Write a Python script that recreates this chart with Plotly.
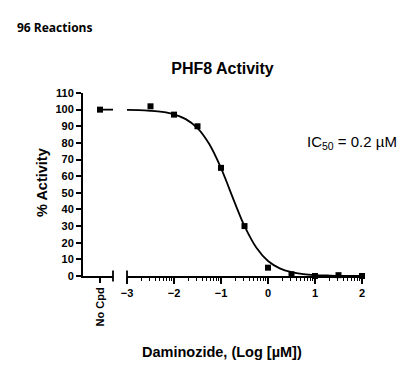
import plotly.graph_objects as go

# ---- data ----
log_conc = [-2.5, -2.0, -1.5, -1.0, -0.5, 0.0, 0.5, 1.0, 1.5, 2.0]
activity = [102, 97, 90, 65, 30, 5, 1, 0, 0.5, 0]

no_cpd_label = ["No Cpd"]
no_cpd_value = [100]

# fitted curve
curve_x = [-3.0, -2.75, -2.5, -2.25, -2.0, -1.75, -1.5, -1.25, -1.0, -0.875,
           -0.75, -0.625, -0.5, -0.25, 0.0, 0.25, 0.5, 0.75, 1.0, 1.25, 1.5, 1.75, 2.0]
curve_y = [99.8, 99.7, 99.3, 98.6, 97.2, 94.3, 88.9, 79.3, 64.9, 56.2,
           47.1, 38.2, 30.0, 17.1, 9.0, 4.6, 2.3, 1.1, 0.5, 0.3, 0.1, 0.06, 0.03]
curve_top = 100

y_ticks = list(range(0, 111, 10))
x_ticks = [-3, -2, -1, 0, 1, 2]
x_minor = [d + m for d in [-3, -2, -1, 0, 1] for m in
           [0.301, 0.477, 0.602, 0.699, 0.778, 0.845, 0.903, 0.954]]

seg1_range = [-1.7, 1.3]

FONT = "Liberation Sans, Arial, sans-serif"

fig = go.Figure()

# segment 1: No Cpd
fig.add_trace(go.Scatter(x=[0, seg1_range[1]], y=[curve_top, curve_top], mode="lines",
                         line=dict(color="black", width=1.8), xaxis="x", yaxis="y",
                         hoverinfo="skip", cliponaxis=False))
fig.add_trace(go.Scatter(x=[0], y=no_cpd_value, mode="markers",
                         marker=dict(symbol="square", size=6, color="black"),
                         xaxis="x", yaxis="y", cliponaxis=False))

# segment 2: dose response
fig.add_trace(go.Scatter(x=curve_x, y=curve_y, mode="lines", line_shape="spline",
                         line=dict(color="black", width=1.8), xaxis="x2", yaxis="y",
                         hoverinfo="skip", cliponaxis=False))
fig.add_trace(go.Scatter(x=log_conc, y=activity, mode="markers",
                         marker=dict(symbol="square", size=6, color="black"),
                         xaxis="x2", yaxis="y", cliponaxis=False))

tickfont = dict(family=FONT, size=11, color="black", weight="bold")

fig.update_layout(
    width=413, height=372,
    margin=dict(l=83, r=51, t=93, b=96, autoexpand=False),
    paper_bgcolor="white", plot_bgcolor="white",
    showlegend=False,
    title=dict(text="PHF8 Activity", x=0.5, xref="paper", y=1 - 68 / 372,
               yanchor="middle", xanchor="center",
               font=dict(family=FONT, size=16, color="black", weight="bold")),
    xaxis=dict(domain=[0, 30 / 279], range=seg1_range, tickmode="array",
               tickvals=[0], ticktext=no_cpd_label, tickangle=-90,
               ticks="outside", ticklen=5, tickwidth=1.5, tickcolor="black",
               showline=True, linewidth=2, linecolor="black",
               showgrid=False, zeroline=False, tickfont=tickfont, anchor="y"),
    xaxis2=dict(domain=[44 / 279, 1], range=[-3, 2], tickmode="array",
                tickvals=x_ticks, ticks="outside", ticklen=6, tickwidth=1.5,
                tickcolor="black", showline=True, linewidth=2, linecolor="black",
                showgrid=False, zeroline=False, tickfont=tickfont, anchor="y",
                minor=dict(tickmode="array", tickvals=x_minor, ticks="outside",
                           ticklen=3, tickwidth=1.2, tickcolor="black")),
    yaxis=dict(range=[0, 110], tickmode="array", tickvals=y_ticks,
               ticks="outside", ticklen=5, tickwidth=1.5, tickcolor="black",
               showline=True, linewidth=2, linecolor="black",
               showgrid=False, zeroline=False, tickfont=tickfont, anchor="x"),
)

# broken axis end bars
for xr, xv in [("x domain", 1), ("x2 domain", 0)]:
    fig.add_shape(type="line", xref=xr, yref="paper", x0=xv, x1=xv,
                  y0=-0.03, y1=0.03, line=dict(color="black", width=1.8))

ann_font = dict(family=FONT, size=14.5, color="black", weight="bold")
fig.add_annotation(text="Daminozide, (Log [µM])", xref="paper", yref="paper",
                   x=(221.5 - 83) / 279, y=(276 - 352) / 183, showarrow=False,
                   xanchor="center", yanchor="middle", font=ann_font)
fig.add_annotation(text="% Activity", xref="paper", yref="paper",
                   x=(42 - 83) / 279, y=(276 - 183) / 183, textangle=-90,
                   showarrow=False, xanchor="center", yanchor="middle", font=ann_font)
fig.add_annotation(text="IC<sub>50</sub> = 0.2 µM", xref="paper", yref="paper",
                   x=(305 - 83) / 279, y=(276 - 142) / 183, showarrow=False,
                   xanchor="left", yanchor="middle",
                   font=dict(family=FONT, size=15, color="black"))
fig.add_annotation(text="96 Reactions", xref="paper", yref="paper",
                   x=(15 - 83) / 279, y=(276 - 27) / 183, showarrow=False,
                   xanchor="left", yanchor="middle",
                   font=dict(family="Open Sans, sans-serif", size=12, color="black",
                             weight="bold"))

fig.write_html("out.html", config={"displayModeBar": False},
               post_script="document.body.style.margin='0';document.body.style.padding='0';")
